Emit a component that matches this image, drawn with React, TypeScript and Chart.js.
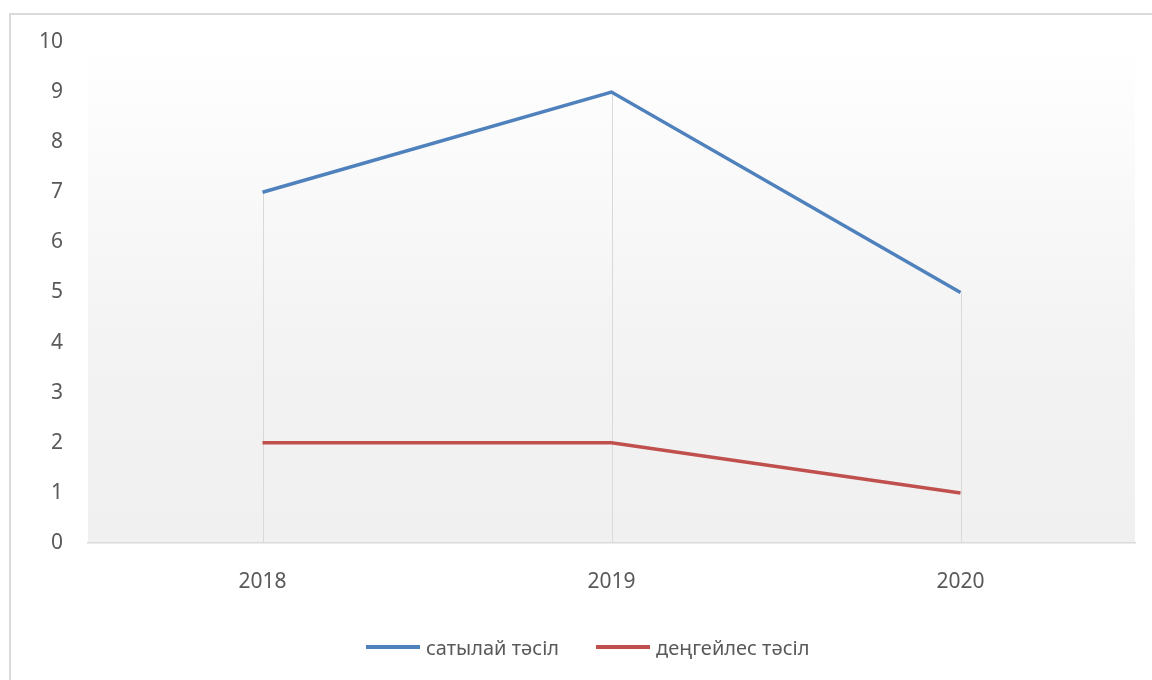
import React, { useEffect, useRef } from "react";
import { Chart, registerables } from "chart.js";

Chart.register(...registerables);

const categories = ["2018", "2019", "2020"];
const seriesVertical = [7, 9, 5];
const seriesHorizontal = [2, 2, 1];
const seriesNames = ["сатылай тәсіл", "деңгейлес тәсіл"];
const seriesColors = ["#4f81bd", "#c0504d"];
const yMin = 0;
const yMax = 10;
const yStep = 1;

const FONT = "'Noto Sans', 'DejaVu Sans', sans-serif";
const TEXT = "#595959";

const bgPlugin = {
  id: "plotBg",
  beforeDraw(chart: any) {
    const { ctx, chartArea } = chart;
    if (!chartArea) return;
    const g = ctx.createLinearGradient(0, chartArea.top, 0, chartArea.bottom);
    g.addColorStop(0, "#ffffff");
    g.addColorStop(0.6, "#f3f3f3");
    g.addColorStop(1, "#f0f0f0");
    ctx.save();
    ctx.fillStyle = g;
    ctx.fillRect(chartArea.left, chartArea.top, chartArea.right - chartArea.left, chartArea.bottom - chartArea.top);
    ctx.restore();
  },
};

const dropLinePlugin = {
  id: "dropLines",
  beforeDatasetsDraw(chart: any) {
    const { ctx, scales } = chart;
    const xs = scales.x;
    const ys = scales.y;
    const n = chart.data.labels.length;
    ctx.save();
    ctx.strokeStyle = "#d9d9d9";
    ctx.lineWidth = 1;
    for (let i = 0; i < n; i++) {
      let maxV = -Infinity;
      chart.data.datasets.forEach((d: any) => {
        if (d.data[i] > maxV) maxV = d.data[i];
      });
      const x = Math.round(xs.getPixelForValue(i)) + 0.5;
      ctx.beginPath();
      ctx.moveTo(x, ys.getPixelForValue(maxV));
      ctx.lineTo(x, ys.getPixelForValue(yMin));
      ctx.stroke();
    }
    ctx.restore();
  },
};

export default function App() {
  const ref = useRef<HTMLCanvasElement | null>(null);

  useEffect(() => {
    if (!ref.current) return;
    const chart = new Chart(ref.current, {
      type: "line",
      data: {
        labels: categories,
        datasets: [
          {
            label: seriesNames[0],
            data: seriesVertical,
            borderColor: seriesColors[0],
            backgroundColor: seriesColors[0],
            borderWidth: 3.5,
            pointRadius: 0,
            tension: 0,
          },
          {
            label: seriesNames[1],
            data: seriesHorizontal,
            borderColor: seriesColors[1],
            backgroundColor: seriesColors[1],
            borderWidth: 3.5,
            pointRadius: 0,
            tension: 0,
          },
        ],
      },
      options: {
        responsive: false,
        animation: false,
        devicePixelRatio: 1,
        layout: { padding: { left: 0, top: 42, right: 17, bottom: 67 } },
        scales: {
          x: {
            offset: true,
            grid: { display: false, drawTicks: false },
            border: { display: true, color: "#d9d9d9", width: 1.5 },
            ticks: { color: TEXT, font: { family: FONT, size: 21 }, padding: 26 },
            afterFit: (s: any) => {
              s.height = 70;
            },
          },
          y: {
            min: yMin,
            max: yMax,
            grid: { display: false, drawTicks: false },
            border: { display: false },
            ticks: { stepSize: yStep, color: TEXT, font: { family: FONT, size: 21 }, padding: 25 },
            afterFit: (s: any) => {
              s.width = 88;
            },
          },
        },
        plugins: {
          legend: { display: false },
          tooltip: { enabled: false },
        },
      },
      plugins: [bgPlugin, dropLinePlugin],
    });
    return () => chart.destroy();
  }, []);

  const legendLefts = [366, 596];

  return (
    <div style={{ position: "absolute", left: 0, top: 0, width: 1152, height: 680, background: "#fff", overflow: "hidden" }}>
      <div
        style={{
          position: "absolute",
          left: 9,
          top: 13,
          width: 1160,
          height: 700,
          border: "2px solid #d9d9d9",
          boxSizing: "border-box",
        }}
      />
      <canvas ref={ref} width={1152} height={680} style={{ position: "absolute", left: 0, top: 0 }} />
      {seriesNames.map((name, i) => (
        <div
          key={name}
          style={{
            position: "absolute",
            left: legendLefts[i],
            top: 632,
            height: 30,
            display: "flex",
            alignItems: "center",
            fontFamily: FONT,
            fontSize: 20,
            color: TEXT,
            whiteSpace: "nowrap",
          }}
        >
          <span style={{ display: "inline-block", width: 54, height: 3.5, background: seriesColors[i], marginRight: 6 }} />
          <span>{name}</span>
        </div>
      ))}
    </div>
  );
}
